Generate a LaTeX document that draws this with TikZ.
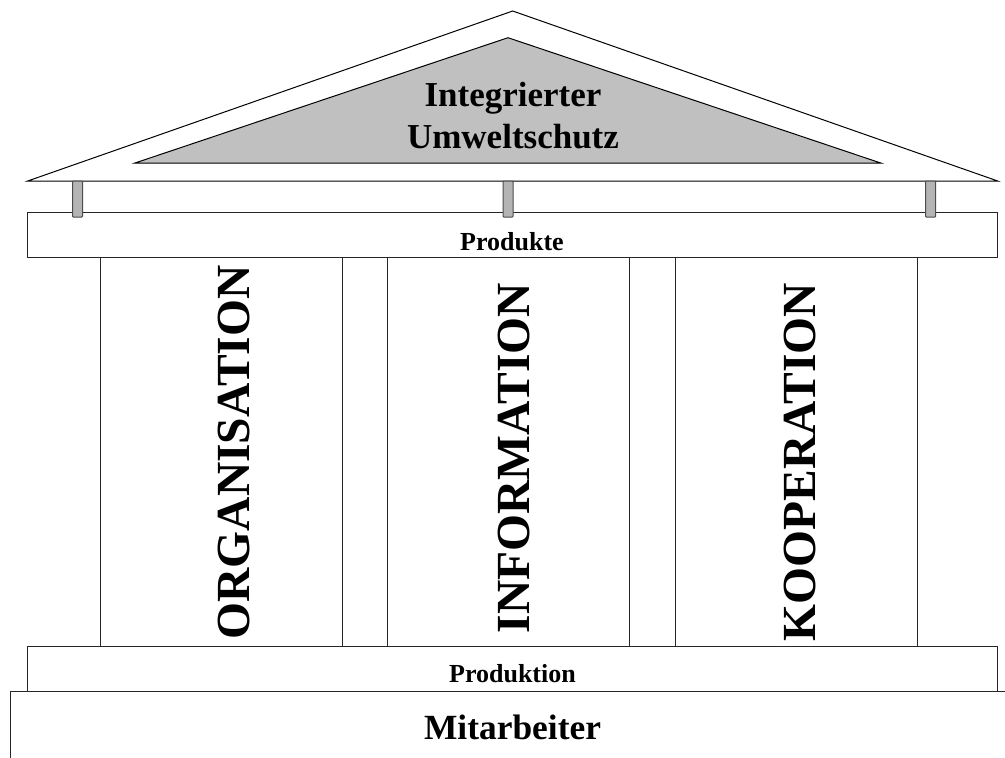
\documentclass[tikz,border=0pt]{standalone}
\usepackage{fontspec}
\setmainfont{Liberation Serif}
\definecolor{roofgray}{RGB}{192,192,192}
\definecolor{postgray}{RGB}{180,180,180}
\begin{document}
\begin{tikzpicture}[x=1pt,y=-1pt,
  part/.style={draw=black!85, line width=1pt, inner sep=0pt, outer sep=0pt},
  beam/.style={part, fill=white, minimum width=970pt, minimum height=45pt},
  pillar/.style={part, fill=white, minimum width=242pt, minimum height=388.3pt},
  post/.style={part, draw=black!70, fill=postgray, rounded corners=0.8pt, minimum width=10pt, minimum height=36pt},
  label/.style={font=\bfseries, inner sep=0pt, anchor=base},
  pillartext/.style={font=\bfseries\fontsize{47.5}{50}\selectfont, inner sep=0pt, rotate=90, anchor=base west}]
\clip (0,0) rectangle (1005,758);

% roof
\draw[line width=1pt] (27.7,181) coordinate (eaveL) -- (512.7,11) coordinate (apex)
  -- (997.7,181) coordinate (eaveR) -- cycle;
\draw[line width=1pt, fill=roofgray] (135,163) -- (508,37.7) -- (880.7,163) -- cycle;
\node[label, font=\bfseries\fontsize{35}{41.6}\selectfont, align=center, anchor=base]
  (roof) at (513,148.3) {Integrierter\\Umweltschutz};

% upper beam
\node[beam] (produkte) at (512.7,235.2) {};
\node[label, font=\bfseries\fontsize{26}{28}\selectfont] (produktetext) at (512,250) {Produkte};

% posts between roof and beam
\node[post] (postL) at (77.5,199) {};
\node[post] (postM) at (508,199) {};
\node[post] (postR) at (930.6,199) {};

% pillars
\node[pillar] (org) at (221,451.85) {};
\node[pillar] (inf) at (508.65,451.85) {};
\node[pillar] (koop) at (796,451.85) {};
\node[pillartext] (orgtext) at (249,639.5) {ORGANISATION};
\node[pillartext] (inftext) at (529.3,633.3) {INFORMATION};
\node[pillartext] (kooptext) at (815,641.5) {KOOPERATION};

% lower beam
\node[beam] (produktion) at (512.7,668.5) {};
\node[label, font=\bfseries\fontsize{26}{28}\selectfont] (produktiontext) at (512.5,682.7) {Produktion};

% foundation
\coordinate (baseL) at (10,770);
\coordinate (baseR) at (1020,691);
\draw[line width=1pt, black!85] (baseL) |- (baseR);
\node[label, font=\bfseries\fontsize{35.4}{40}\selectfont] (staff) at (512.5,739.3) {Mitarbeiter};
\end{tikzpicture}
\end{document}
